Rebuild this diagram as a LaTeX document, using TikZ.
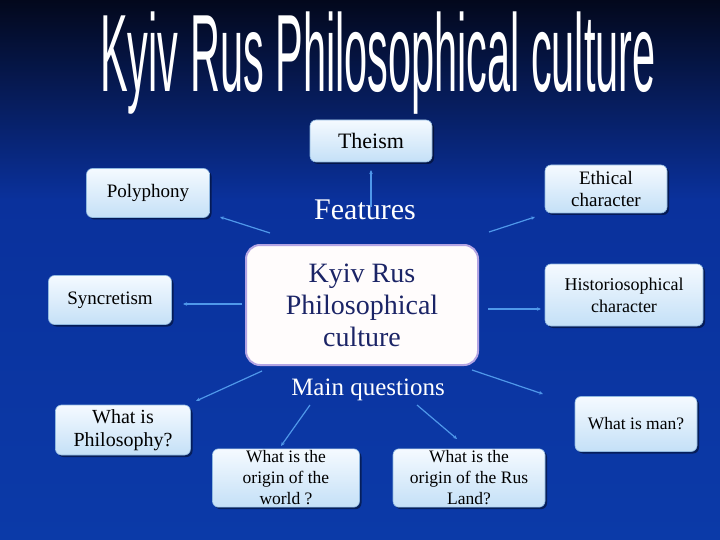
\documentclass[tikz,border=0pt]{standalone}
\usepackage{fontspec}
\setmainfont{Liberation Serif}
\setsansfont{Liberation Sans}
\usetikzlibrary{arrows.meta,shadows}
\definecolor{bgtop}{HTML}{03081C}
\definecolor{bgmid}{HTML}{0A319C}
\definecolor{bgbot}{HTML}{0B3AA8}
\definecolor{conncol}{HTML}{4F98EA}
\definecolor{boxtop}{HTML}{F5FAFF}
\definecolor{boxbot}{HTML}{C4E0F7}
\definecolor{boxline}{HTML}{8FB8E0}
\definecolor{centline}{HTML}{B3A4E3}
\definecolor{centtext}{HTML}{1B2466}
\tikzset{
  qbox/.style={rounded corners=6pt, top color=boxtop, bottom color=boxbot, draw=boxline, line width=0.6pt,
    align=center, text=black, inner sep=2pt,
    drop shadow={opacity=0.45, shadow xshift=2pt, shadow yshift=-2pt, fill=black}},
  conn/.style={draw=conncol, line width=1.2pt, -{Stealth[length=4pt,width=3.5pt]}},
}
\begin{document}
\begin{tikzpicture}[x=1pt,y=-1pt]
\useasboundingbox (0,0) rectangle (720,540);
% background
\shade[top color=bgtop, bottom color=bgmid] (0,0) rectangle (720,200);
\shade[top color=bgmid, bottom color=bgbot] (0,199.5) rectangle (720,540);
% title
\node[anchor=base, text=white, inner sep=0pt] (title) at (378,92)
  {\scalebox{0.377}[1]{\fontsize{110}{110}\selectfont\sffamily Kyiv Rus Philosophical culture}};
% central box
\node[rounded corners=14pt, fill=white!96!pink, draw=centline, line width=2pt,
      minimum width=232pt, minimum height=120pt, align=center, text=centtext,
      font=\rmfamily\fontsize{28}{32}\selectfont] (center) at (362,305)
  {Kyiv Rus\\Philosophical\\culture};
% labels
\node[text=white, font=\rmfamily\fontsize{30}{32}\selectfont] (features) at (365,210) {Features};
\node[text=white, font=\rmfamily\fontsize{25}{28}\selectfont] (mainq) at (368,390) {Main questions};
% feature boxes
\node[qbox, minimum width=122pt, minimum height=42pt, font=\rmfamily\fontsize{22}{24}\selectfont] (theism) at (371,141) {Theism};
\node[qbox, minimum width=123pt, minimum height=49pt, font=\rmfamily\fontsize{19}{21}\selectfont] (poly) at (148,193) {Polyphony};
\node[qbox, minimum width=122pt, minimum height=48pt, font=\rmfamily\fontsize{19}{22}\selectfont] (ethic) at (606,189) {Ethical\\character};
\node[qbox, minimum width=123pt, minimum height=49pt, font=\rmfamily\fontsize{19}{21}\selectfont] (sync) at (110,300) {Syncretism};
\node[qbox, minimum width=158pt, minimum height=62pt, font=\rmfamily\fontsize{18}{22}\selectfont] (hist) at (624,295) {Historiosophical\\character};
% question boxes
\node[qbox, minimum width=135pt, minimum height=50pt, font=\rmfamily\fontsize{20}{23}\selectfont] (phil) at (123,430) {What is\\Philosophy?};
\node[qbox, minimum width=147pt, minimum height=57pt, font=\rmfamily\fontsize{17.5}{21}\selectfont] (world) at (286,478) {What is the\\origin of the\\world ?};
\node[qbox, minimum width=152pt, minimum height=57pt, font=\rmfamily\fontsize{17.5}{21}\selectfont] (rus) at (469,478) {What is the\\origin of the Rus\\Land?};
\node[qbox, minimum width=122pt, minimum height=55pt, font=\rmfamily\fontsize{17.5}{21}\selectfont] (man) at (636,424) {What is man?};
% connector ends
\coordinate (t0) at (371,207); \coordinate (t1) at (371,170);
\coordinate (p0) at (270,233); \coordinate (p1) at (220,217);
\coordinate (e0) at (489,232); \coordinate (e1) at (535,217);
\coordinate (s0) at (242,304); \coordinate (s1) at (183,304);
\coordinate (h0) at (488,309); \coordinate (h1) at (541,309);
\coordinate (q0) at (262,371); \coordinate (q1) at (196,401);
\coordinate (w0) at (310,405); \coordinate (w1) at (281,446);
\coordinate (r0) at (417,405); \coordinate (r1) at (457,439);
\coordinate (m0) at (472,370); \coordinate (m1) at (543,394);
\draw[conn] (t0) -- (t1);
\draw[conn] (p0) -- (p1);
\draw[conn] (e0) -- (e1);
\draw[conn] (s0) -- (s1);
\draw[conn] (h0) -- (h1);
\draw[conn] (q0) -- (q1);
\draw[conn] (w0) -- (w1);
\draw[conn] (r0) -- (r1);
\draw[conn] (m0) -- (m1);
\end{tikzpicture}
\end{document}
